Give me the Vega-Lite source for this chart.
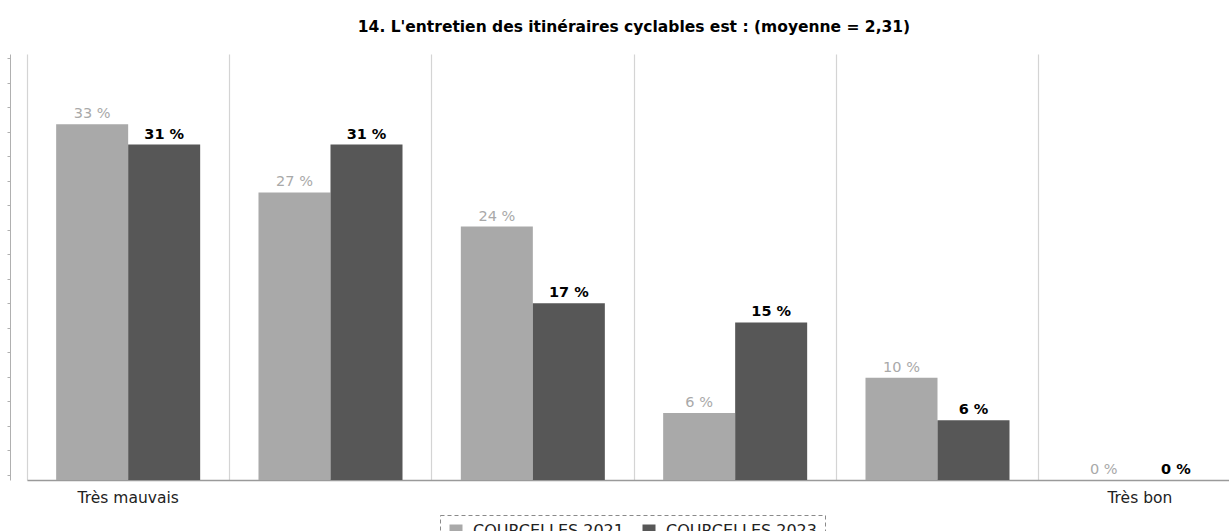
{
  "$schema": "https://vega.github.io/schema/vega-lite/v6.json",
  "autosize": {"type": "none"},
  "padding": {"left": 27, "top": 54, "right": 0, "bottom": 51},
  "width": 1214,
  "height": 426,
  "background": "#ffffff",
  "title": {
    "text": "14. L'entretien des itinéraires cyclables est : (moyenne = 2,31)",
    "font": "DejaVu Sans",
    "fontSize": 15.5,
    "fontWeight": "bold",
    "color": "#000000",
    "anchor": "middle",
    "offset": 19
  },
  "data": {
    "values": [
      {"cat": "Très mauvais", "series": "COURCELLES 2021", "value": 33.4, "label": "33 %"},
      {"cat": "Très mauvais", "series": "COURCELLES 2023", "value": 31.5, "label": "31 %"},
      {"cat": "2", "series": "COURCELLES 2021", "value": 27.0, "label": "27 %"},
      {"cat": "2", "series": "COURCELLES 2023", "value": 31.5, "label": "31 %"},
      {"cat": "3", "series": "COURCELLES 2021", "value": 23.8, "label": "24 %"},
      {"cat": "3", "series": "COURCELLES 2023", "value": 16.6, "label": "17 %"},
      {"cat": "4", "series": "COURCELLES 2021", "value": 6.3, "label": "6 %"},
      {"cat": "4", "series": "COURCELLES 2023", "value": 14.8, "label": "15 %"},
      {"cat": "5", "series": "COURCELLES 2021", "value": 9.6, "label": "10 %"},
      {"cat": "5", "series": "COURCELLES 2023", "value": 5.6, "label": "6 %"},
      {"cat": "Très bon", "series": "COURCELLES 2021", "value": 0, "label": "0 %"},
      {"cat": "Très bon", "series": "COURCELLES 2023", "value": 0, "label": "0 %"}
    ]
  },
  "encoding": {
    "x": {
      "field": "cat",
      "type": "nominal",
      "sort": null,
      "scale": {"paddingInner": 0, "paddingOuter": 0},
      "axis": {
        "title": null,
        "labelAngle": 0,
        "labelExpr": "datum.value == 'Très mauvais' || datum.value == 'Très bon' ? datum.value : ''",
        "labelFont": "DejaVu Sans",
        "labelFontSize": 15.5,
        "labelColor": "#222222",
        "labelPadding": 10,
        "ticks": false,
        "grid": true,
        "gridColor": "#d4d4d4",
        "gridWidth": 1.2,
        "bandPosition": 0,
        "domainColor": "#9a9a9a",
        "domainWidth": 1.5
      }
    },
    "xOffset": {
      "field": "series",
      "type": "nominal",
      "scale": {"paddingInner": 0, "paddingOuter": 0.405}
    },
    "y": {
      "field": "value",
      "type": "quantitative",
      "scale": {"domain": [0, 40], "nice": false},
      "axis": {
        "title": null,
        "labels": false,
        "grid": false,
        "offset": 17,
        "domainColor": "#b0b0b0",
        "tickColor": "#b0b0b0",
        "tickSize": 3,
        "values": [0.5, 2.8, 5.1, 7.4, 9.7, 12.0, 14.3, 16.6, 18.9, 21.2, 23.5, 25.8, 28.1, 30.4, 32.7, 35.0, 37.3, 39.6]
      }
    }
  },
  "layer": [
    {
      "mark": {"type": "bar"},
      "encoding": {
        "color": {
          "field": "series",
          "type": "nominal",
          "scale": {"domain": ["COURCELLES 2021", "COURCELLES 2023"], "range": ["#a9a9a9", "#575757"]},
          "legend": {
            "title": null,
            "orient": "none",
            "legendX": 413,
            "legendY": 461,
            "direction": "horizontal",
            "symbolType": "square",
            "symbolSize": 169,
            "symbolStrokeWidth": 0,
            "symbolOffset": 0,
            "labelOffset": 9,
            "labelFont": "DejaVu Sans",
            "labelFontSize": 16,
            "labelColor": "#222222",
            "strokeColor": "#8a8a8a",
            "padding": 8,
            "columnPadding": 17,
            "encode": {"legend": {"update": {"strokeDash": {"value": [4, 3]}}}}
          }
        }
      }
    },
    {
      "transform": [{"filter": "datum.series == 'COURCELLES 2021'"}],
      "mark": {"type": "text", "baseline": "bottom", "dy": -3, "font": "DejaVu Sans", "fontSize": 14.5, "color": "#a9a9a9"},
      "encoding": {"text": {"field": "label"}}
    },
    {
      "transform": [{"filter": "datum.series == 'COURCELLES 2023'"}],
      "mark": {"type": "text", "baseline": "bottom", "dy": -3, "font": "DejaVu Sans", "fontSize": 14.5, "fontWeight": "bold", "color": "#000000"},
      "encoding": {"text": {"field": "label"}}
    }
  ],
  "config": {"view": {"stroke": null}}
}
